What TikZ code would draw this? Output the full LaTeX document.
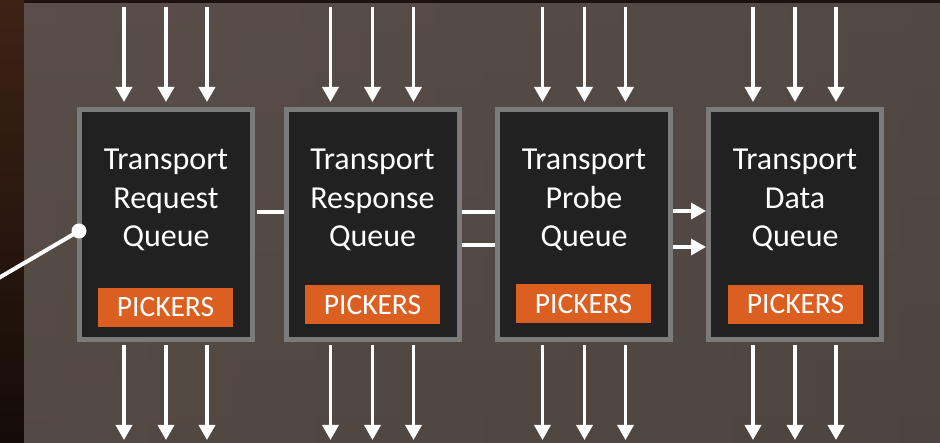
\documentclass[tikz,border=0pt]{standalone}
\usepackage{fontspec}
\setmainfont{Carlito}
\usetikzlibrary{arrows.meta}
\definecolor{panelA}{HTML}{594E49}
\definecolor{panelB}{HTML}{4A433F}
\definecolor{panelC}{HTML}{4F463F}
\definecolor{stripA}{HTML}{3E2216}
\definecolor{stripB}{HTML}{140C07}
\definecolor{topstrip}{HTML}{1C130E}
\definecolor{boxgrey}{HTML}{7B7B7B}
\definecolor{boxfill}{HTML}{212121}
\definecolor{pick}{HTML}{DC5F22}
\tikzset{
  qbox/.style={draw=boxgrey, line width=5pt, fill=boxfill, minimum width=173pt, minimum height=230pt, inner sep=0pt},
  qtext/.style={text=white, anchor=base, inner sep=0pt, font=\fontsize{32}{38}\selectfont},
  pickbox/.style={fill=pick, text=white, minimum width=135pt, minimum height=39pt, inner sep=0pt, font=\fontsize{29.5}{34}\selectfont},
  flow/.style={draw=white, line width=3.5pt, -{Triangle[width=16pt,length=15pt]}},
  link/.style={draw=white, line width=3.5pt},
  sidearrow/.style={draw=white, line width=3.5pt, -{Triangle[width=16pt,length=15pt]}},
}
\begin{document}
\begin{tikzpicture}[x=1pt,y=-1pt]
\useasboundingbox (0,0) rectangle (940,443);
% background
\fill[topstrip] (0,0) rectangle (940,443);
\shade[top color=stripA, bottom color=stripB] (0,0) rectangle (24,443);
\shade[left color=panelA, right color=panelB] (24,4) rectangle (940,443);
\shade[top color=panelA, bottom color=panelC, opacity=0.5] (24,4) rectangle (940,443);

% boxes
\node[qbox] (b1) at (166,224.5) {};
\node[qbox] (b2) at (372.5,224.5) {};
\node[qbox] (b3) at (584,224.5) {};
\node[qbox] (b4) at (795,224.5) {};

% texts
\node[qtext] (t1a) at (166,170) {Transport};
\node[qtext] (t1b) at (166,208.5) {Request};
\node[qtext] (t1c) at (166,247) {Queue};
\node[qtext] (t2a) at (372.5,170) {Transport};
\node[qtext] (t2b) at (372.5,208.5) {Response};
\node[qtext] (t2c) at (372.5,247) {Queue};
\node[qtext] (t3a) at (584,170) {Transport};
\node[qtext] (t3b) at (584,208.5) {Probe};
\node[qtext] (t3c) at (584,247) {Queue};
\node[qtext] (t4a) at (795,170) {Transport};
\node[qtext] (t4b) at (795,208.5) {Data};
\node[qtext] (t4c) at (795,247) {Queue};

% pickers
\node[pickbox] (p1) at (165.5,307.5) {PICKERS};
\node[pickbox] (p2) at (372.5,305) {PICKERS};
\node[pickbox] (p3) at (583.5,304) {PICKERS};
\node[pickbox] (p4) at (795.5,304.5) {PICKERS};

% top and bottom arrows
\foreach \b/\c in {b1/166, b2/372.5, b3/584.5, b4/795}{
  \foreach \d [count=\i] in {-42,0,41}{
    \coordinate (\b top\i) at (\c+\d,7);
    \coordinate (\b bot\i) at (\c+\d,440);
    \draw[flow, shorten >=5pt] (\b top\i) -- (\b top\i |- \b.north);
    \draw[flow, shorten <=3pt] (\b top\i |- \b.south) -- (\b bot\i);
  }
}

% links between boxes
\draw[link, shorten <=2pt] (b1.east |- 0,212) -- (b2.west |- 0,212);
\draw[link] (b2.east |- 0,212) -- (b3.west |- 0,212);
\draw[link] (b2.east |- 0,245) -- (b3.west |- 0,245);
\draw[sidearrow] (b3.east |- 0,211) -- (b4.west |- 0,211);
\draw[sidearrow] (b3.east |- 0,247) -- (b4.west |- 0,247);

% left input line
\coordinate (in) at (-3,279);
\coordinate (dot) at (79,231);
\draw[link, line width=4pt] (in) -- (dot);
\fill[white] (dot) circle (7.5);
\end{tikzpicture}
\end{document}
